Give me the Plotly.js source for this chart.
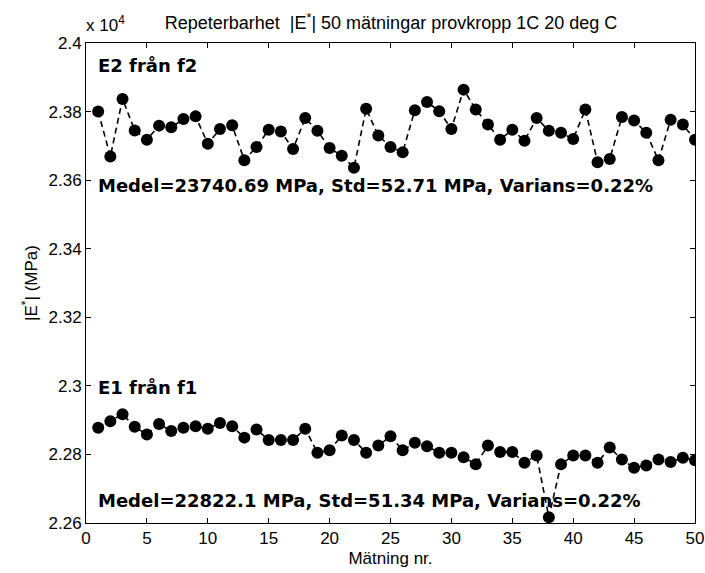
<!DOCTYPE html>
<html>
<head>
<meta charset="utf-8">
<script src="https://cdn.plot.ly/plotly-3.0.1.min.js"></script>
<style>html,body{margin:0;padding:0;background:#fff;}#chart{width:705px;height:573px;}</style>
</head>
<body>
<div id="chart"></div>
<script>
// Measurement numbers
const matning = Array.from({length: 50}, (_, i) => i + 1);

// |E*| from f2 (MPa)
const e2 = [23800, 23669, 23837, 23745, 23718, 23759, 23754, 23778, 23786, 23706,
            23749, 23760, 23658, 23697, 23747, 23742, 23691, 23781, 23744, 23694,
            23671, 23636, 23808, 23730, 23697, 23681, 23804, 23828, 23801, 23749,
            23864, 23806, 23762, 23718, 23747, 23715, 23781, 23744, 23738, 23720,
            23806, 23652, 23662, 23784, 23774, 23738, 23658, 23776, 23762, 23718];

// |E*| from f1 (MPa)
const e1 = [22878, 22897, 22917, 22881, 22858, 22889, 22868, 22878, 22882, 22875,
            22892, 22882, 22849, 22873, 22842, 22842, 22842, 22875, 22805, 22812,
            22855, 22842, 22805, 22826, 22853, 22812, 22834, 22824, 22805, 22805,
            22792, 22771, 22826, 22807, 22807, 22776, 22797, 22617, 22771, 22797,
            22797, 22776, 22820, 22785, 22761, 22768, 22785, 22778, 22790, 22783];

// Axis ticks
const yTickVals = [22600, 22800, 23000, 23200, 23400, 23600, 23800, 24000];
const yTickText = ['2.26', '2.28', '2.3', '2.32', '2.34', '2.36', '2.38', '2.4'];
const xTickVals = [0, 5, 10, 15, 20, 25, 30, 35, 40, 45, 50];

// Texts
const titleText = 'Repeterbarhet  |E<sup>*</sup>| 50 mätningar provkropp 1C 20 deg C';
const label2 = 'E2 från f2';
const stats2 = 'Medel=23740.69 MPa, Std=52.71 MPa, Varians=0.22%';
const label1 = 'E1 från f1';
const stats1 = 'Medel=22822.1 MPa, Std=51.34 MPa, Varians=0.22%';

const FONT = 'Liberation Sans, Arial, sans-serif';
const BOLD = 'DejaVu Sans, Verdana, sans-serif';
const FS = 17;

const seriesStyle = {
  type: 'scatter',
  mode: 'lines+markers',
  line: {color: '#000', width: 1.6, dash: '6px,4px'},
  marker: {color: '#000', size: 12, symbol: 'circle'},
  showlegend: false,
  hoverinfo: 'skip'
};

const traces = [
  Object.assign({}, seriesStyle, {x: matning, y: e2, name: 'E2'}),
  Object.assign({}, seriesStyle, {x: matning, y: e1, name: 'E1'})
];

function note(text, y) {
  return {text: '<b>' + text + '</b>', xref: 'paper', yref: 'paper', x: 0.017, y: y,
          xanchor: 'left', yanchor: 'middle', showarrow: false,
          font: {family: BOLD, size: 18, color: '#000'}};
}

const layout = {
  width: 705,
  height: 573,
  margin: {l: 86, r: 10, t: 43, b: 50},
  paper_bgcolor: '#fff',
  plot_bgcolor: '#fff',
  font: {family: FONT, size: FS, color: '#000'},
  title: {
    text: titleText,
    font: {family: FONT, size: 18, color: '#000'},
    x: 391/705, xanchor: 'center',
    y: 1 - 23/573, yanchor: 'middle', yref: 'container'
  },
  xaxis: {
    range: [0, 50],
    tickvals: xTickVals,
    ticks: 'inside', ticklen: 5, tickcolor: '#000',
    showline: true, linecolor: '#000', linewidth: 1, mirror: 'ticks',
    showgrid: false, zeroline: false,
    ticklabeloverflow: 'allow',
    tickfont: {family: FONT, size: FS, color: '#000'},
    title: {text: 'Mätning nr.', font: {family: FONT, size: FS, color: '#000'}, standoff: 4},
    automargin: false
  },
  yaxis: {
    range: [22600, 24000],
    tickvals: yTickVals,
    ticktext: yTickText,
    ticks: 'inside', ticklen: 5, tickcolor: '#000',
    showline: true, linecolor: '#000', linewidth: 1, mirror: 'ticks',
    showgrid: false, zeroline: false,
    ticklabeloverflow: 'allow',
    tickfont: {family: FONT, size: FS, color: '#000'},
    title: {text: '|E<sup>*</sup>| (MPa)', font: {family: FONT, size: FS, color: '#000'}, standoff: 6},
    automargin: false
  },
  annotations: [
    {text: 'x 10<sup>4</sup>', xref: 'paper', yref: 'paper', x: -2/609, y: 1 + 19/480, xanchor: 'left', yanchor: 'middle', showarrow: false, font: {family: FONT, size: FS, color: '#000'}},
    note(label2, 0.954),
    note(stats2, 0.704),
    note(label1, 0.283),
    note(stats1, 0.047)
  ]
};

Plotly.newPlot('chart', traces, layout, {staticPlot: true, displayModeBar: false});
</script>
</body>
</html>
